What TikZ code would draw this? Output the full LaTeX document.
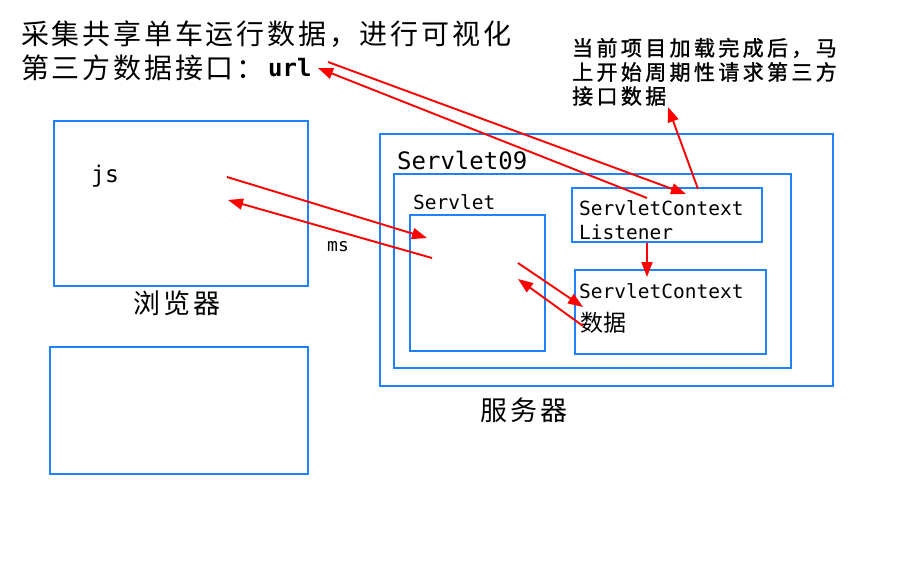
\documentclass[tikz,border=0pt]{standalone}
\usepackage{fontspec}
\setmonofont{DejaVu Sans Mono}
\newfontfamily\cjk{Noto Sans CJK SC}
\usetikzlibrary{arrows.meta}
\definecolor{boxblue}{RGB}{30,130,255}
\definecolor{arrred}{RGB}{255,0,0}
\begin{document}
\begin{tikzpicture}[x=1pt,y=-1pt,
  box/.style={draw=boxblue,line width=2pt,anchor=north west,inner sep=0pt,outer sep=0pt},
  arr/.style={draw=arrred,line width=1.9pt,-{Triangle[length=15pt,width=11pt]}},
  lbl/.style={inner sep=0pt,anchor=west},
  bigcjk/.style={font=\cjk\fontsize{28}{32}\selectfont\addfontfeature{LetterSpace=10}},
  midcjk/.style={font=\cjk\fontsize{21}{24}\selectfont\addfontfeature{LetterSpace=16,FakeBold=1.3}},
  mono/.style={font=\ttfamily\fontsize{#1}{#1}\selectfont}
]
\useasboundingbox (0,0) rectangle (918,564);
\fill[white] (0,0) rectangle (918,564);

% boxes
\node[box,minimum width=254pt,minimum height=165pt] (browser) at (54,121) {};
\node[box,minimum width=258pt,minimum height=127pt] (other) at (50,347) {};
\node[box,minimum width=453pt,minimum height=252pt] (server) at (380,134) {};
\node[box,minimum width=397pt,minimum height=194pt] (app) at (394,174) {};
\node[box,minimum width=135pt,minimum height=136pt] (servlet) at (410,215) {};
\node[box,minimum width=190pt,minimum height=54pt] (listener) at (572,188) {};
\node[box,minimum width=191pt,minimum height=84pt] (context) at (575,270) {};

% texts
\node[lbl,bigcjk] (title1) at (21,34) {采集共享单车运行数据，进行可视化};
\node[lbl,bigcjk] (title2) at (21,68) {第三方数据接口：};
\node[lbl,font=\ttfamily\bfseries\fontsize{24}{24}\selectfont] (url) at (268,68) {url};
\node[lbl,midcjk] (note1) at (572,48) {当前项目加载完成后，马};
\node[lbl,midcjk] (note2) at (572,72) {上开始周期性请求第三方};
\node[lbl,midcjk] (note3) at (572,96) {接口数据};
\node[lbl,mono=24] (s09) at (397,160) {Servlet09};
\node[lbl,mono=19.5] (slbl) at (413,202) {Servlet};
\node[lbl,mono=19.5] (l1) at (579,208) {ServletContext};
\node[lbl,mono=19.5] (l2) at (579,232) {Listener};
\node[lbl,mono=19.5] (c1) at (579,291) {ServletContext};
\node[lbl,font=\cjk\fontsize{23}{26}\selectfont\addfontfeature{LetterSpace=3}] (data) at (580,323) {数据};
\node[lbl,mono=23] (js) at (91,176) {js};
\node[lbl,mono=18] (ms) at (327,247) {ms};
\node[anchor=center,inner sep=0pt,font=\cjk\fontsize{27}{30}\selectfont\addfontfeature{LetterSpace=10}] (blbl) at (177,303) {浏览器};
\node[anchor=center,inner sep=0pt,font=\cjk\fontsize{27}{30}\selectfont\addfontfeature{LetterSpace=10}] (svlbl) at (524,410) {服务器};

% arrow end points
\coordinate (jsA) at (227,177);
\coordinate (svA) at (427,238);
\coordinate (svB) at (432,258);
\coordinate (jsB) at (228,200);
\coordinate (urlA) at (328,62);
\coordinate (lsA) at (686,194);
\coordinate (lsB) at (647,198);
\coordinate (urlB) at (318,68);
\coordinate (lsC) at (698,189);
\coordinate (noteA) at (668,107);
\coordinate (lsD) at (647,243);
\coordinate (ctxA) at (647,277);
\coordinate (svC) at (518,263);
\coordinate (ctxB) at (583,307);
\coordinate (ctxC) at (583,326);
\coordinate (svD) at (518,279);

% arrows
\draw[arr] (jsA) -- (svA);
\draw[arr] (svB) -- (jsB);
\draw[arr] (urlA) -- (lsA);
\draw[arr] (lsB) -- (urlB);
\draw[arr] (lsC) -- (noteA);
\draw[arr] (lsD) -- (ctxA);
\draw[arr] (svC) -- (ctxB);
\draw[arr] (ctxC) -- (svD);
\end{tikzpicture}
\end{document}
